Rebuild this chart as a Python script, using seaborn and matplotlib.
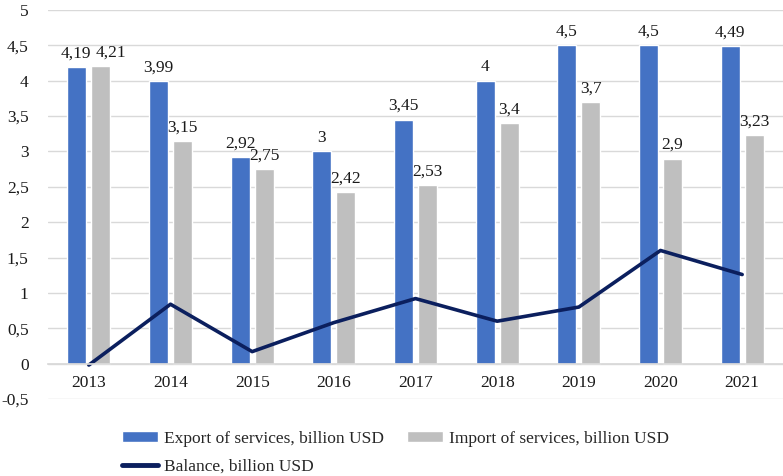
import numpy as np
import pandas as pd
import matplotlib
matplotlib.use("Agg")
import matplotlib.pyplot as plt
import seaborn as sns
from matplotlib.patches import Patch
from matplotlib.lines import Line2D

years = ["2013", "2014", "2015", "2016", "2017", "2018", "2019", "2020", "2021"]
export_vals = [4.19, 3.99, 2.92, 3.00, 3.45, 4.00, 4.50, 4.50, 4.49]
import_vals = [4.21, 3.15, 2.75, 2.42, 2.53, 3.40, 3.70, 2.90, 3.23]
balance_vals = [-0.02, 0.84, 0.17, 0.58, 0.92, 0.60, 0.80, 1.60, 1.26]
export_labels = ["4,19", "3,99", "2,92", "3", "3,45", "4", "4,5", "4,5", "4,49"]
import_labels = ["4,21", "3,15", "2,75", "2,42", "2,53", "3,4", "3,7", "2,9", "3,23"]
y_ticks = [-0.5, 0, 0.5, 1, 1.5, 2, 2.5, 3, 3.5, 4, 4.5, 5]

EXP_NAME = "Export of services, billion USD"
IMP_NAME = "Import of services, billion USD"
BAL_NAME = "Balance, billion USD"
C_EXP = "#4472C4"
C_IMP = "#BFBFBF"
C_BAL = "#0B1F5E"

sns.set_theme(style="white")
plt.rcParams["font.family"] = ["Liberation Serif", "DejaVu Serif"]
FS = 12.5

df = pd.DataFrame({
    "year": years * 2,
    "value": export_vals + import_vals,
    "series": [EXP_NAME] * len(years) + [IMP_NAME] * len(years),
})

fig = plt.figure(figsize=(7.83, 4.76), dpi=100)
ax = fig.add_axes([48 / 783, 77 / 476, 735 / 783, 389 / 476])

sns.barplot(data=df, x="year", y="value", hue="series", order=years,
            hue_order=[EXP_NAME, IMP_NAME], palette=[C_EXP, C_IMP],
            width=0.585, gap=0.21, saturation=1, ax=ax, legend=False)

sns.lineplot(x=np.arange(len(years)), y=balance_vals, color=C_BAL,
             linewidth=2.6, ax=ax, legend=False)

# value labels over the bars
label_sets = []
for container, labels in zip(ax.containers, [export_labels, import_labels]):
    label_sets.append(ax.bar_label(container, labels=labels, padding=4,
                                   fontsize=FS, color="#1a1a1a"))
# pull apart the two nearly equal 2013 labels
label_sets[0][0].xyann = (-1, 4)
label_sets[1][0].xyann = (7, 4)

ax.set_ylim(-0.5, 5)
ax.set_xlim(-0.5, len(years) - 0.5)
ax.set_yticks(y_ticks)
ax.set_yticklabels([("%g" % v).replace(".", ",") for v in y_ticks], fontsize=FS)
ax.yaxis.grid(True, color="#D9D9D9", linewidth=1)
ax.set_axisbelow(True)
ax.set_xlabel("")
ax.set_ylabel("")
for s in ["top", "right", "left"]:
    ax.spines[s].set_visible(False)
ax.spines["bottom"].set_position(("data", 0))
ax.spines["bottom"].set_color("#D9D9D9")
ax.tick_params(axis="x", length=0, pad=8, labelsize=FS, colors="#1a1a1a")
ax.tick_params(axis="y", length=0, pad=14, colors="#1a1a1a")

handles = [Patch(facecolor=C_EXP), Line2D([], [], color=C_BAL, linewidth=3.5),
           Patch(facecolor=C_IMP)]
names = [EXP_NAME, BAL_NAME, IMP_NAME]
fig.legend(handles, names, ncol=2, loc="upper left", bbox_to_anchor=(113 / 783, 1 - 422 / 476),
           frameon=False, fontsize=FS, handlelength=2.1, handleheight=0.6,
           handletextpad=0.35, columnspacing=1.3, labelspacing=0.7, borderpad=0)

fig.savefig("out.png", dpi=100)
